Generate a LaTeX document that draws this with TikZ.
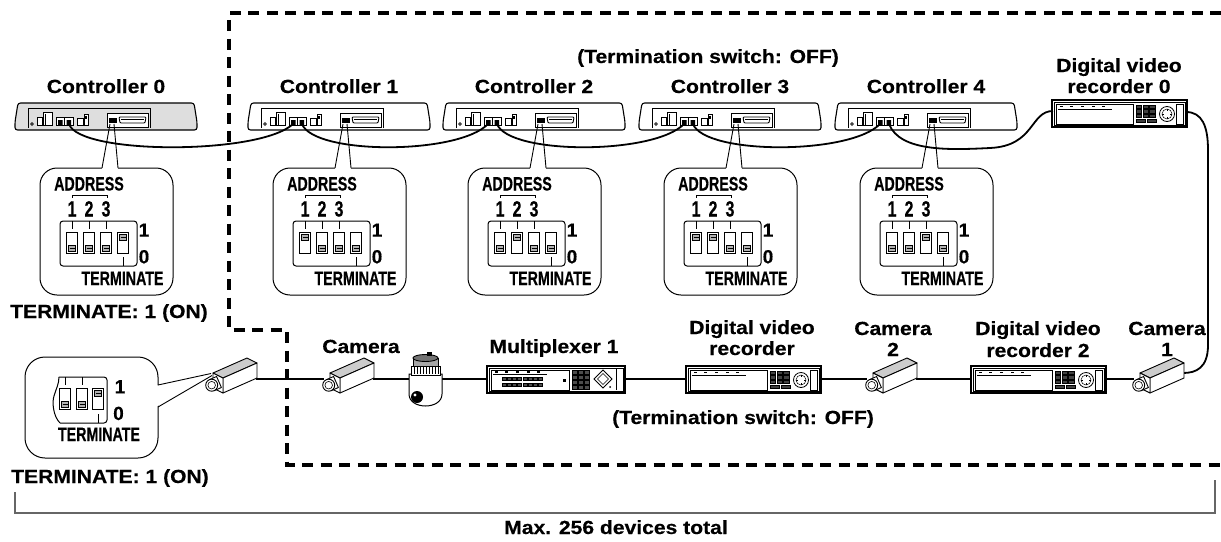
\documentclass[tikz,border=0pt]{standalone}
\usepackage{fontspec}
\setmainfont{Liberation Sans}[FakeStretch=1.11, BoldFeatures={FakeBold=0.35}]
\newfontfamily\condfont{Liberation Sans}[FakeStretch=0.73, BoldFeatures={FakeBold=0.35}]
\newfontfamily\plainfont{Liberation Sans}[BoldFeatures={FakeBold=0.35}]
\usetikzlibrary{calc}
\tikzset{
  lbl/.style={font=\fontsize{19}{20}\selectfont\bfseries, inner sep=0pt, anchor=base},
  cnd/.style={font=\condfont\fontsize{19.5}{20}\selectfont\bfseries, inner sep=0pt, anchor=base},
  dig/.style={font=\condfont\fontsize{22}{22}\selectfont\bfseries, inner sep=0pt, anchor=base},
  num/.style={font=\plainfont\fontsize{19}{20}\selectfont\bfseries, inner sep=0pt, anchor=base},
  cable/.style={line width=1.8pt},
  border/.style={line width=3.6pt, dash pattern=on 11pt off 7.5pt},
  ptr/.style={line width=.9pt},
  pics/controller/.style={code={
    \draw[line width=1.1pt, fill=#1, rounded corners=2.5pt] (3,0) -- (179,0) -- (182,19) -- (182,27) -- (0,27) -- (0,19) -- cycle;
    \draw[line width=.7pt] (13,25) -- (13,5) -- (135,5) -- (135,25);
    \draw[line width=.6pt] (17,21) circle (1.4pt);
    \draw[line width=.7pt, fill=white] (22,14) rectangle (27,22);
    \draw[line width=.7pt, fill=white] (28,9) rectangle (37,22);
    \draw[line width=.5pt] (30,11) -- (30,22);
    \draw[line width=.8pt, fill=white] (41,14) rectangle (58,22);
    \draw[line width=.6pt] (49.5,14) -- (49.5,22);
    \fill (43,17) rectangle (47.5,22) (51.5,17) rectangle (56,22);
    \draw[line width=.7pt, fill=white] (62,15) rectangle (68,22);
    \draw[line width=.7pt, fill=white] (69,11) rectangle (73,22);
    \fill (70.3,12.5) rectangle (71.7,15.5);
    \draw[line width=.8pt, fill=white] (92,10) rectangle (133,24);
    \fill (94,15) rectangle (102,20);
    \draw[line width=.9pt, rounded corners=1pt] (104,14) -- (131,14) -- (130,20) -- (105,20) -- cycle;
    \draw[line width=.4pt] (106,16) -- (129,16);
  }},
  pics/controller/.default=white,
  pics/dvr/.style={code={
    \draw[line width=1.2pt, fill=white] (0,0) rectangle (135,27);
    \draw[line width=.5pt] (2,2) rectangle (133,25);
    \draw[line width=.7pt] (4,4) rectangle (81,24);
    \foreach \x in {8,18,29,40,50} \fill (\x,5.5) rectangle ++(2.5,1.6);
    \draw[line width=.6pt] (6,9.5) -- (60,9.5);
    \foreach \i in {0,1,2} \foreach \j in {0,1,2} \draw[line width=.3pt, fill=black!75] (84+\i*6.8,5+\j*4.6) rectangle ++(5.4,3.4);
    \draw[line width=.3pt, fill=black!75] (84,19) rectangle ++(9.4,3.4) (95,19) rectangle ++(9.4,3.4);
    \draw[line width=.8pt, fill=white] (115,14) circle (7.5pt);
    \draw[line width=.5pt] (115,14) circle (5pt);
    \draw[line width=.5pt] (115,9) -- (115,11) (115,17) -- (115,19) (110,14) -- (112,14) (118,14) -- (120,14);
    \draw[line width=.6pt] (124,4) rectangle (131,24);
  }},
  pics/mux/.style={code={
    \draw[line width=1.2pt, fill=white] (0,0) rectangle (138,27);
    \draw[line width=.5pt] (2,2) rectangle (136,25);
    \draw[line width=.7pt] (4,4) rectangle (82,24);
    \foreach \x in {8,18,29,40,50} \fill (\x,5.2) rectangle ++(2.5,1.5);
    \draw[line width=.6pt] (6,8.5) -- (60,8.5);
    \foreach \i in {0,...,7} {\draw[line width=.3pt, fill=black!70] (15+\i*5.2,11) rectangle ++(3.9,3.2);
      \draw[line width=.3pt, fill=black!70] (15+\i*5.2,17) rectangle ++(3.9,3.2);}
    \fill (76,13) rectangle ++(3,3);
    \foreach \i in {0,1,2} \foreach \j in {0,1,2,3} \draw[line width=.3pt, fill=black!70] (85+\i*6.3,4.2+\j*5) rectangle ++(5,3.8);
    \draw[line width=.8pt, fill=white] (116,4) -- (125,13) -- (116,22) -- (107,13) -- cycle;
    \draw[line width=.5pt] (116,7.5) -- (121.5,13) -- (116,18.5) -- (110.5,13) -- cycle;
    \fill (123,21) circle (1pt);
    \draw[line width=.5pt] (129,3) -- (129,24);
  }},
  pics/camera/.style={code={
    \draw[line width=.9pt, line join=round, fill=black!20] (8,16) -- (42,1) -- (52,6) -- (18,21) -- cycle;
    \draw[line width=.9pt, line join=round, fill=white] (18,21) -- (52,6) -- (52,21) -- (18,36) -- cycle;
    \draw[line width=.9pt, line join=round, fill=white] (8,16) -- (18,21) -- (18,36) -- (8,31) -- cycle;
    \draw[line width=.9pt, line join=round, fill=white] (11.6,19.5) -- (16.4,30.5) -- (9.1,33.7) -- (4.3,22.7) -- cycle;
    \draw[line width=.9pt, fill=white] (6.7,28.2) circle (6pt);
    \draw[line width=.6pt] (6.7,28.2) circle (3.8pt);
  }},
  pics/dome/.style={code={
    \draw[line width=1pt, fill=white] (1,24) -- (1,44) .. controls (1,60) and (34,60) .. (34,44) -- (34,24) -- cycle;
    \draw[line width=.9pt, fill=white] (3,16) rectangle (32,25);
    \foreach \x in {6,9,...,30} \draw[line width=.5pt] (\x,17) -- (\x,24);
    \draw[line width=.9pt, fill=black!35] (5,8) rectangle (30,16);
    \draw[line width=.9pt, fill=black!55] (17.5,8) ellipse (12.5pt and 3.5pt);
    \fill (19,2) rectangle (24,6);
    \fill (9,47) circle (6pt);
    \fill[white] (7,45) circle (1.6pt);
  }}
}
\newcommand{\mysw}[3]{%
  \draw[line width=.9pt, fill=white] (#1-5.5,#2) rectangle (#1+5.5,#2+21);
  \ifnum#3=1
    \draw[line width=.6pt, fill=black!30] (#1-3.5,#2+2) rectangle (#1+3.5,#2+8);
    \draw[line width=.4pt] (#1-2.5,#2+5) -- (#1+2.5,#2+5);
  \else
    \draw[line width=.6pt, fill=black!30] (#1-3.5,#2+13) rectangle (#1+3.5,#2+19);
    \draw[line width=.4pt] (#1-2.5,#2+16) -- (#1+2.5,#2+16);
  \fi}
\newcommand{\cbub}[6]{%
\begin{scope}[shift={(#2-72,168)}]
  \draw[line width=1pt, rounded corners=17pt, fill=white] (0,0) rectangle (133,127);
  \fill[white] (68.7,-37) -- (62,1.5) -- (78,1.5) -- (74.6,-37) -- cycle;
  \draw[ptr] (70,-44) -- (62,0) (74,-44) -- (78,0);
  \node[cnd] (#1addr) at (49,22.5) {ADDRESS};
  \draw[line width=.6pt] (32,29.5) -- (32,27) -- (67,27) -- (67,29.5);
  \node[dig] (#1da) at (32,48.5) {1};
  \node[dig] (#1db) at (49,48.5) {2};
  \node[dig] (#1dc) at (66,48.5) {3};
  \draw[line width=1pt, rounded corners=3pt] (20,53) rectangle (97,98);
  \foreach \x in {32,49,66} \draw[line width=.6pt] (\x,53) -- (\x,60.5);
  \mysw{32}{64}{#3}\mysw{49}{64}{#4}\mysw{66}{64}{#5}\mysw{83}{64}{#6}
  \draw[line width=.6pt] (83,89) -- (83,98);
  \node[num] (#1one) at (104,68.7) {1};
  \node[num] (#1zero) at (104,95.3) {0};
  \node[cnd] (#1term) at (82.5,117) {TERMINATE};
\end{scope}}
\begin{document}
\begin{tikzpicture}[x=1pt,y=-1pt]
\useasboundingbox (0,0) rectangle (1221,541);
% dashed boundary
\draw[border] (1221,13) -- (229,13) -- (229,330) -- (287,330) -- (287,465) -- (1221,465);
% bracket
\draw[line width=1.2pt, black!60] (15,492) -- (15,513) -- (1215,513) -- (1215,480);
\node[lbl] (maxl) at (616,534) {Max. 256 devices total};
% connection coordinates
\coordinate (c0b) at (69,124);
\coordinate (c1a) at (293,124); \coordinate (c1b) at (302,124);
\coordinate (c2a) at (488,124); \coordinate (c2b) at (497,124);
\coordinate (c3a) at (684,124); \coordinate (c3b) at (693,124);
\coordinate (c4a) at (880,124); \coordinate (c4b) at (889,124);
\coordinate (d0l) at (1053,111); \coordinate (d0r) at (1186,112);
\coordinate (kLb) at (256,379); \coordinate (kCf) at (324,379);
\coordinate (kCb) at (373,379); \coordinate (dml) at (410,379);
\coordinate (dmr) at (441,379); \coordinate (mxl) at (488,379);
\coordinate (mxr) at (624,379); \coordinate (dvl) at (687,379);
\coordinate (dvr) at (820,379); \coordinate (k2f) at (867,379);
\coordinate (k2b) at (916,379); \coordinate (d2l) at (972,379);
\coordinate (d2r) at (1105,379); \coordinate (k1f) at (1134,379);
\coordinate (k1b) at (1183,373);
% bottom cables
\draw[cable] (kLb) -- (kCf) (kCb) -- (dml) (dmr) -- (mxl) (mxr) -- (dvl)
  (dvr) -- (k2f) (k2b) -- (d2l) (d2r) -- (k1f);
\draw[cable] (d0r) .. controls (1202,112) and (1208,126) .. (1208,150) -- (1208,345)
  .. controls (1208,368) and (1196,373) .. (k1b);
% devices
\pic (ctl0) at (15,103) {controller=black!13};
\pic (ctl1) at (248,103) {controller};
\pic (ctl2) at (443,103) {controller};
\pic (ctl3) at (639,103) {controller};
\pic (ctl4) at (835,103) {controller};
\pic (dvr0) at (1052,100) {dvr};
\pic (camL) at (205,357) {camera};
\pic (camC) at (322,357) {camera};
\pic (dome) at (408,350) {dome};
\pic (mux1) at (487,366) {mux};
\pic (dvrM) at (686,366) {dvr};
\pic (cam2) at (865,357) {camera};
\pic (dvr2) at (971,366) {dvr};
\pic (cam1) at (1132,357) {camera};
% bubbles
\cbub{b0}{112}{0}{0}{0}{1}
\cbub{b1}{345}{1}{0}{0}{0}
\cbub{b2}{540}{0}{1}{0}{0}
\cbub{b3}{736}{1}{1}{0}{0}
\cbub{b4}{932}{0}{0}{1}{0}
% bottom-left bubble
\draw[line width=1pt, rounded corners=20pt, fill=white] (25,357) rectangle (158,458);
\fill[white] (157,385.5) -- (211,374.5) -- (157,406.5) -- cycle;
\draw[ptr] (158,385) -- (211,373.5) (158,407) -- (212,375.5);
\draw[line width=1pt, rounded corners=3pt] (59,377) -- (107,377) -- (107,423) -- (60,423);
\draw[line width=1pt] (60,423) .. controls (53,416) and (52,402) .. (54,396) .. controls (56,389) and (59,384) .. (59,377);
\draw[line width=.6pt] (65,377) -- (65,384.5) (82,377) -- (82,384.5) (98,414) -- (98,423);
\mysw{65}{388.5}{0}\mysw{82}{388.5}{0}\mysw{98}{388.5}{1}
\node[num] (bl1) at (120,393.3) {1};
\node[num] (bl0) at (118.5,420) {0};
\node[cnd] (blterm) at (99,441) {TERMINATE};
% top cables
\draw[cable] (c0b) .. controls +(10,31) and +(-33,31) .. (c1a);
\draw[cable] (c1b) .. controls +(12,31) and +(-30,31) .. (c2a);
\draw[cable] (c2b) .. controls +(12,31) and +(-30,31) .. (c3a);
\draw[cable] (c3b) .. controls +(12,31) and +(-30,31) .. (c4a);
\draw[cable] (c4b) .. controls (900,152) and (950,150) .. (990,148) .. controls (1035,146) and (1030,111) .. (d0l);
% labels
\node[lbl] (lc0) at (106,93) {Controller 0};
\node[lbl] (lc1) at (339,93) {Controller 1};
\node[lbl] (lc2) at (534,93) {Controller 2};
\node[lbl] (lc3) at (730,93) {Controller 3};
\node[lbl] (lc4) at (926,93) {Controller 4};
\node[lbl] (ltop) at (708,63) {(Termination switch: OFF)};
\node[lbl] (ld0a) at (1119,72) {Digital video};
\node[lbl] (ld0b) at (1119,93) {recorder 0};
\node[lbl] (lt0) at (109,318) {TERMINATE: 1 (ON)};
\node[lbl] (ltL) at (110,483) {TERMINATE: 1 (ON)};
\node[lbl] (lcam) at (361,353) {Camera};
\node[lbl] (lmux) at (554,353) {Multiplexer 1};
\node[lbl] (ldma) at (752,334) {Digital video};
\node[lbl] (ldmb) at (752,355) {recorder};
\node[lbl] (lbot) at (743,424) {(Termination switch: OFF)};
\node[lbl] (lk2a) at (893,335) {Camera};
\node[lbl] (lk2b) at (893,356) {2};
\node[lbl] (ld2a) at (1038,335) {Digital video};
\node[lbl] (ld2b) at (1038,357) {recorder 2};
\node[lbl] (lk1a) at (1167,335) {Camera};
\node[lbl] (lk1b) at (1167,356) {1};
\end{tikzpicture}
\end{document}
